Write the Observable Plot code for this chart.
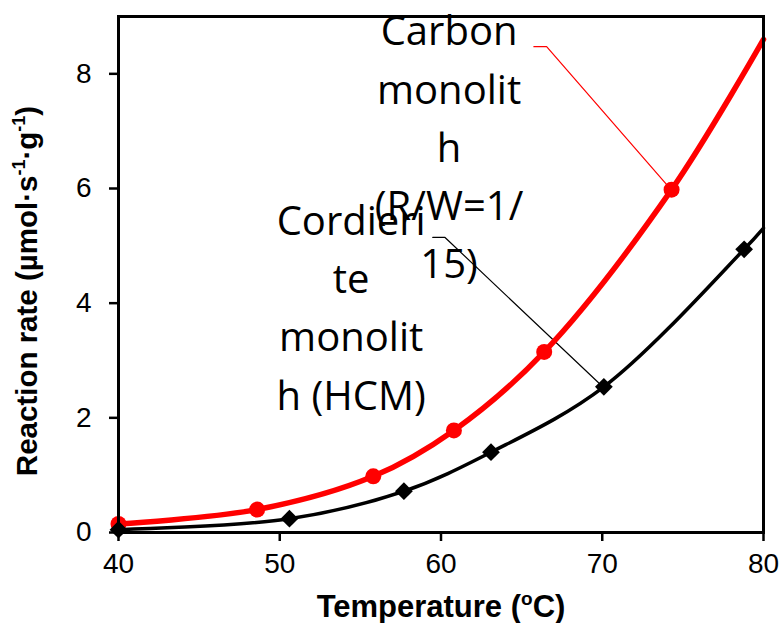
<!DOCTYPE html>
<html><head><meta charset="utf-8">
<script src="https://cdn.jsdelivr.net/npm/d3@7"></script>
<script src="https://cdn.jsdelivr.net/npm/@observablehq/plot@0.6"></script>
<style>body{margin:0;background:#fff}svg{display:block}</style>
</head><body><div id="chart"></div>
<script>
// ---- data ----
const xTicks = [40, 50, 60, 70, 80];
const yTicks = [0, 2, 4, 6, 8];

// Carbon monolith (R/W=1/15): red circles
const carbonT    = [40, 48.6, 55.8, 60.8, 66.4, 74.3];
const carbonRate = [0.15, 0.40, 0.98, 1.78, 3.15, 5.98];
// red smooth curve (markers + end of curve at 80 °C)
const carbonCurveT    = [40, 48.6, 55.8, 60.8, 66.4, 74.3, 80];
const carbonCurveRate = [0.15, 0.40, 0.98, 1.78, 3.15, 5.98, 8.6];

// Cordierite monolith (HCM): black diamonds
const hcmT    = [40, 50.6, 57.7, 63.1, 70.1, 78.8];
const hcmRate = [0.05, 0.24, 0.72, 1.40, 2.54, 4.94];
const hcmCurveT    = [40, 50.6, 57.7, 63.1, 70.1, 78.8, 80];
const hcmCurveRate = [0.05, 0.24, 0.72, 1.40, 2.54, 4.94, 5.31];

// annotation labels and leader lines (data units)
const carbonLabel = "Carbon\nmonolit\nh\n(R/W=1/\n15)";
const carbonLabelPos = [60.5, 6.79];
const hcmLabel = "Cordieri\nte\nmonolit\nh (HCM)";
const hcmLabelPos = [54.43, 3.99];
const carbonLeaderT = [65.76, 66.55, 74.24];
const carbonLeaderRate = [8.474, 8.474, 5.99];
const hcmLeaderT = [59.49, 60.25, 70.05];
const hcmLeaderRate = [5.146, 5.146, 2.537];

const xLabel = ["Temperature (", "o", "C)"];
const yLabel = ["Reaction rate (µmol·s", "-1", "·g", "-1", ")"];

// ---- tables ----
const pts = (T, R) => T.map((t, i) => ({t, r: R[i]}));
const carbonPts = pts(carbonT, carbonRate);
const carbonCurve = pts(carbonCurveT, carbonCurveRate);
const hcmPts = pts(hcmT, hcmRate);
const hcmCurve = pts(hcmCurveT, hcmCurveRate);
const carbonLeader = pts(carbonLeaderT, carbonLeaderRate);
const hcmLeader = pts(hcmLeaderT, hcmLeaderRate);

const sans = "'Liberation Sans', Arial, sans-serif";
const annFont = "'Open Sans', sans-serif";

const plot = Plot.plot({
  width: 783, height: 623,
  marginLeft: 118, marginRight: 20, marginTop: 16, marginBottom: 91,
  style: {fontFamily: sans, background: "#fff", color: "#000"},
  x: {domain: [40, 80]},
  y: {domain: [0, 9]},
  marks: [
    Plot.line(carbonLeader, {x: "t", y: "r", stroke: "red", strokeWidth: 1.2}),
    Plot.line(hcmLeader, {x: "t", y: "r", stroke: "black", strokeWidth: 1.2}),
    Plot.line(carbonCurve, {x: "t", y: "r", stroke: "red", strokeWidth: 5.5, curve: "catmull-rom"}),
    Plot.dot(carbonPts, {x: "t", y: "r", r: 8, fill: "red", stroke: "none"}),
    Plot.line(hcmCurve, {x: "t", y: "r", stroke: "black", strokeWidth: 3.5, curve: "catmull-rom"}),
    Plot.dot(hcmPts, {x: "t", y: "r", r: 8, symbol: "diamond2", fill: "black", stroke: "none"}),
    Plot.text([carbonLabel], {x: carbonLabelPos[0], y: carbonLabelPos[1], text: d => d,
      fontFamily: annFont, fontSize: 40, lineHeight: 1.456, fill: "black", textAnchor: "middle", lineAnchor: "middle"}),
    Plot.text([hcmLabel], {x: hcmLabelPos[0], y: hcmLabelPos[1], text: d => d,
      fontFamily: annFont, fontSize: 40, lineHeight: 1.456, fill: "black", textAnchor: "middle", lineAnchor: "middle"}),
    Plot.frame({stroke: "black", strokeWidth: 3}),
    Plot.axisX({ticks: xTicks, tickSize: 9, tickPadding: 12, strokeWidth: 2.5, fontSize: 28, label: null, fill: "black"}),
    Plot.axisY({ticks: yTicks, tickSize: 9, tickPadding: 18, strokeWidth: 2.5, fontSize: 28, label: null, fill: "black"})
  ]
});
document.getElementById("chart").appendChild(plot);

const svg = d3.select(plot);
const xt = svg.append("text").attr("x", 441).attr("y", 617).attr("text-anchor", "middle")
  .attr("font-family", sans).attr("font-weight", "bold").attr("font-size", 31).attr("fill", "black");
xt.append("tspan").text(xLabel[0]);
xt.append("tspan").attr("font-size", 19).attr("dy", -12).text(xLabel[1]);
xt.append("tspan").attr("dy", 12).text(xLabel[2]);

const yt = svg.append("text").attr("transform", "translate(37,291) rotate(-90)").attr("text-anchor", "middle")
  .attr("font-family", sans).attr("font-weight", "bold").attr("font-size", 29.5).attr("fill", "black");
yt.append("tspan").text(yLabel[0]);
yt.append("tspan").attr("font-size", 18).attr("dy", -12).text(yLabel[1]);
yt.append("tspan").attr("dy", 12).text(yLabel[2]);
yt.append("tspan").attr("font-size", 18).attr("dy", -12).text(yLabel[3]);
yt.append("tspan").attr("dy", 12).text(yLabel[4]);
</script>
</body></html>
